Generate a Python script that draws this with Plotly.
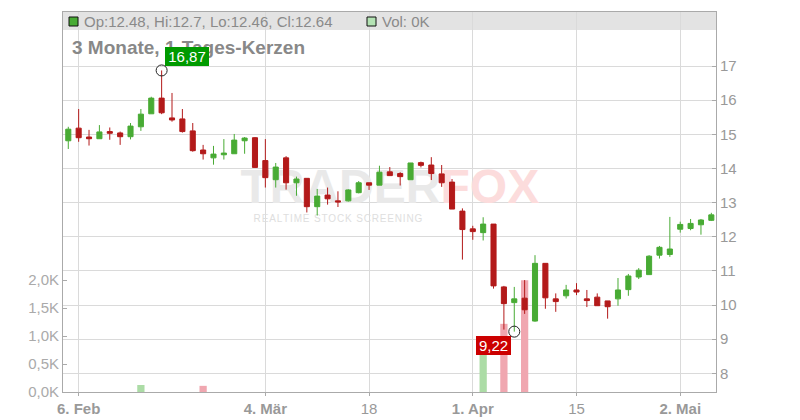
import plotly.graph_objects as go

# ---------------- data ----------------
dates = [
    "2024-02-05", "2024-02-06", "2024-02-07", "2024-02-08", "2024-02-09",
    "2024-02-12", "2024-02-13", "2024-02-14", "2024-02-15", "2024-02-16",
    "2024-02-20", "2024-02-21", "2024-02-22", "2024-02-23", "2024-02-26",
    "2024-02-27", "2024-02-28", "2024-02-29", "2024-03-01", "2024-03-04",
    "2024-03-05", "2024-03-06", "2024-03-07", "2024-03-08", "2024-03-11",
    "2024-03-12", "2024-03-13", "2024-03-14", "2024-03-15", "2024-03-18",
    "2024-03-19", "2024-03-20", "2024-03-21", "2024-03-22", "2024-03-25",
    "2024-03-26", "2024-03-27", "2024-03-28", "2024-03-29", "2024-04-01",
    "2024-04-02", "2024-04-03", "2024-04-04", "2024-04-05", "2024-04-08",
    "2024-04-09", "2024-04-10", "2024-04-11", "2024-04-12", "2024-04-15",
    "2024-04-16", "2024-04-17", "2024-04-18", "2024-04-19", "2024-04-22",
    "2024-04-23", "2024-04-24", "2024-04-25", "2024-04-26", "2024-05-02",
    "2024-05-03", "2024-05-06", "2024-05-07",
]
opens = [14.81, 15.18, 14.92, 14.87, 15.08, 15.04, 14.93, 15.22, 15.60, 16.06,
         15.48, 15.45, 15.10, 14.54, 14.31, 14.40, 14.43, 14.81, 14.90, 14.23,
         13.67, 14.31, 13.58, 13.71, 12.88, 13.22, 13.05, 13.05, 13.29, 13.58,
         13.51, 13.90, 13.85, 13.67, 14.17, 14.10, 13.84, 13.60, 12.75, 12.23,
         12.12, 12.37, 10.53, 10.07, 10.20, 9.53, 11.22, 10.18, 10.27, 10.44,
         10.18, 10.23, 10.12, 10.18, 10.45, 10.82, 10.89, 11.46, 11.48, 12.22,
         12.24, 12.35, 12.48]
highs = [15.22, 15.74, 15.13, 15.27, 15.20, 15.08, 15.33, 15.74, 16.10, 16.87,
         16.21, 15.74, 15.33, 14.69, 14.66, 14.86, 15.01, 14.92, 14.92, 14.86,
         14.16, 14.36, 13.76, 13.71, 13.40, 13.44, 13.33, 13.39, 13.63, 13.58,
         14.08, 14.04, 13.89, 14.16, 14.20, 14.33, 14.10, 13.69, 12.83, 12.32,
         12.57, 12.37, 10.56, 10.53, 10.73, 11.46, 11.22, 10.34, 10.59, 10.64,
         10.44, 10.34, 10.12, 10.79, 10.91, 11.08, 11.46, 11.73, 12.58, 12.44,
         12.52, 12.52, 12.70]
lows = [14.57, 14.78, 14.67, 14.87, 14.84, 14.69, 14.85, 15.10, 15.60, 15.59,
        15.37, 15.05, 14.49, 14.26, 14.11, 14.26, 14.43, 14.43, 14.02, 13.44,
        13.44, 13.38, 13.20, 12.71, 12.62, 12.94, 12.87, 13.03, 13.27, 13.37,
        13.51, 13.79, 13.50, 13.67, 14.03, 13.66, 13.46, 12.81, 11.33, 11.91,
        11.89, 10.48, 9.28, 9.22, 9.74, 9.51, 9.89, 9.80, 10.19, 10.29,
        9.94, 9.98, 9.60, 9.98, 10.27, 10.76, 10.89, 11.36, 11.41, 12.12,
        12.19, 12.06, 12.46]
closes = [15.15, 14.90, 14.87, 15.07, 15.03, 14.93, 15.24, 15.59, 16.06, 15.63,
          15.42, 15.08, 14.52, 14.43, 14.42, 14.45, 14.83, 14.89, 14.03, 13.73,
          14.04, 13.58, 13.69, 12.88, 13.19, 13.11, 13.02, 13.37, 13.58, 13.51,
          13.89, 13.79, 13.76, 14.16, 14.09, 13.85, 13.58, 12.81, 12.21, 12.15,
          12.37, 10.56, 10.04, 10.18, 9.86, 11.22, 10.21, 10.10, 10.44, 10.38,
          10.13, 9.98, 9.95, 10.44, 10.85, 11.02, 11.43, 11.69, 11.64, 12.36,
          12.39, 12.49, 12.64]
volumes = [0, 0, 0, 0, 0, 0, 0, 125, 0, 0,
           0, 0, 0, 110, 0, 0, 0, 0, 0, 0,
           0, 0, 0, 0, 0, 0, 0, 0, 0, 0,
           0, 0, 0, 0, 0, 0, 0, 0, 0, 0,
           950, 0, 1220, 0, 2000, 0, 0, 0, 0, 0,
           0, 0, 0, 0, 0, 0, 0, 0, 0, 0,
           0, 0, 0]
tick_dates = ["2024-02-06", "2024-03-04", "2024-03-18", "2024-04-01", "2024-04-15", "2024-05-02"]
tick_labels = ["<b>6. Feb</b>", "<b>4. Mär</b>", "18", "<b>1. Apr</b>", "15", "<b>2. Mai</b>"]
price_ticks = [8, 9, 10, 11, 12, 13, 14, 15, 16, 17]
vol_ticks = [0, 500, 1000, 1500, 2000]
vol_tick_labels = ["0,0K", "0,5K", "1,0K", "1,5K", "2,0K"]

# ---------------- style ----------------
FONT = "Liberation Sans, Arial, sans-serif"
GREEN = "#48ab34"
RED = "#b31a1a"
VOL_GREEN = "#acdca6"
VOL_RED = "#f0a7b0"
GRID = "#dadada"
AXIS = "#aaaaaa"

fig = go.Figure()

vol_colors = [VOL_GREEN if c >= o else VOL_RED for o, c in zip(opens, closes)]
fig.add_trace(go.Bar(x=dates, y=volumes, marker=dict(color=vol_colors, line=dict(width=0)),
                     width=0.7, xaxis="x", yaxis="y", hoverinfo="skip", showlegend=False))

# watermark (base subplot, drawn beneath the candles)
fig.add_trace(go.Scatter(
    x=[dates[31]], y=[3590], mode="text",
    text=["<b>TRADER<span style='color:#fcdcdc'>FOX</span></b>"],
    textfont=dict(family=FONT, size=48, color="#e9e9e9"),
    textposition="middle center", hoverinfo="skip", showlegend=False, xaxis="x", yaxis="y"))
fig.add_trace(go.Scatter(
    x=[dates[26]], y=[3090], mode="text",
    text=["\u200a".join("REALTIME STOCK SCREENING")],
    textfont=dict(family=FONT, size=10, color="#dedede"),
    textposition="middle center", hoverinfo="skip", showlegend=False, xaxis="x", yaxis="y"))

fig.add_trace(go.Candlestick(
    x=dates, open=opens, high=highs, low=lows, close=closes,
    increasing=dict(line=dict(color=GREEN, width=1), fillcolor=GREEN),
    decreasing=dict(line=dict(color=RED, width=1), fillcolor=RED),
    whiskerwidth=0, xaxis="x", yaxis="y2", hoverinfo="skip", showlegend=False))

i_hi = highs.index(max(highs))
i_lo = lows.index(min(lows))
fig.add_trace(go.Scatter(
    x=[dates[i_hi], dates[i_lo]], y=[highs[i_hi], lows[i_lo]], mode="markers",
    marker=dict(symbol="circle-open", size=11, color="#222222", line=dict(width=1)),
    xaxis="x", yaxis="y2", hoverinfo="skip", showlegend=False))

# the page body adds an 8px margin; the figure is sized so the plot area lands
# at x 63..716, y 12..392 of the 800x420 window
fig.update_layout(
    width=792, height=412, autosize=False,
    margin=dict(l=55, r=84, t=4, b=28, pad=0, autoexpand=False),
    paper_bgcolor="white", plot_bgcolor="white",
    font=dict(family=FONT, color="#999999", size=15),
    showlegend=False, hovermode=False,
    xaxis=dict(type="category", categoryorder="array", categoryarray=dates,
               range=[-0.51, 62.45], tickvals=tick_dates, ticktext=tick_labels,
               showgrid=True, gridcolor=GRID, gridwidth=1, automargin=False,
               ticks="outside", ticklen=3, tickcolor=AXIS,
               showline=True, linecolor=AXIS, mirror=True,
               tickfont=dict(size=15, color="#999999"),
               rangeslider=dict(visible=False), fixedrange=True),
    yaxis=dict(side="left", range=[0, 6800], tickvals=vol_ticks, ticktext=vol_tick_labels,
               showgrid=False, zeroline=False, ticks="inside", ticklen=4, tickcolor=AXIS,
               automargin=False,
               showline=True, linecolor=AXIS, tickfont=dict(size=15, color="#aaaaaa")),
    yaxis2=dict(side="right", overlaying="y", range=[7.452, 18.582], tickvals=price_ticks,
                showgrid=True, gridcolor=GRID, zeroline=False, ticks="inside", ticklen=4,
                tickcolor=AXIS, showline=True, linecolor=AXIS, automargin=False,
                tickfont=dict(size=15, color="#999999")),
)

# header band
W, H, X0, Y0 = 653.0, 380.0, 63.0, 392.0
def px(x):
    return (x - X0) / W
def py(y):
    return (Y0 - y) / H

fig.add_shape(type="rect", xref="paper", yref="paper", x0=0, x1=1, y0=py(30), y1=1,
              fillcolor="#e3e3e3", line=dict(width=0), layer="below")
fig.add_shape(type="rect", xref="paper", yref="paper", x0=px(69), x1=px(78), y0=py(26), y1=py(17),
              fillcolor=GREEN, line=dict(color="#111111", width=1))
fig.add_shape(type="rect", xref="paper", yref="paper", x0=px(367), x1=px(376), y0=py(26), y1=py(17),
              fillcolor="#b4e3b4", line=dict(color="#111111", width=1))

def fmt(v):
    return f"{v:g}"

header = f"Op:{fmt(opens[-1])}, Hi:{fmt(highs[-1])}, Lo:{fmt(lows[-1])}, Cl:{fmt(closes[-1])}"
fig.add_annotation(xref="paper", yref="paper", x=px(84), y=py(21.5), text=header,
                   showarrow=False, xanchor="left", yanchor="middle", borderpad=0, borderwidth=0,
                   font=dict(family=FONT, size=15, color="#8a8a8a"))
fig.add_annotation(xref="paper", yref="paper", x=px(382), y=py(21.5),
                   text=f"Vol: {volumes[-1] / 1000:.0f}K",
                   showarrow=False, xanchor="left", yanchor="middle", borderpad=0, borderwidth=0,
                   font=dict(family=FONT, size=15, color="#8a8a8a"))
fig.add_annotation(xref="paper", yref="paper", x=px(72), y=py(48),
                   text="<b>3 Monate, 1-Tages-Kerzen</b>",
                   showarrow=False, xanchor="left", yanchor="middle", borderpad=0, borderwidth=0,
                   font=dict(family=FONT, size=19, color="#888888"))

# high / low labels
fig.add_annotation(xref="x", yref="y2", x=dates[i_hi], y=highs[i_hi],
                   text=f"{highs[i_hi]:.2f}".replace(".", ","), showarrow=False,
                   xanchor="left", yanchor="bottom", xshift=3, yshift=4,
                   width=44, height=19, bgcolor="#009a00", borderpad=0, borderwidth=0,
                   font=dict(family=FONT, size=15, color="white"))
fig.add_annotation(xref="x", yref="y2", x=dates[i_lo], y=lows[i_lo],
                   text=f"{lows[i_lo]:.2f}".replace(".", ","), showarrow=False,
                   xanchor="right", yanchor="top", xshift=-3, yshift=-4,
                   width=35, height=19, bgcolor="#cc0000", borderpad=0, borderwidth=0,
                   font=dict(family=FONT, size=15, color="white"))

fig.write_html("out.html")
